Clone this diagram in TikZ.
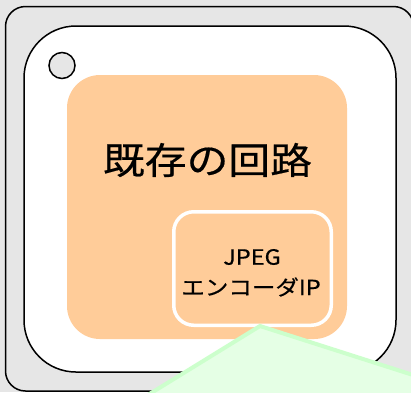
\documentclass[tikz,border=0pt]{standalone}
\usepackage{fontspec}
\setmainfont{Noto Sans CJK JP}[FakeBold=0.4]
\definecolor{bggray}{HTML}{E6E6E6}
\definecolor{peach}{HTML}{FFCC99}
\definecolor{greenfill}{HTML}{E5FFE5}
\definecolor{greenline}{HTML}{CCFFCC}
\tikzset{
  package/.style={draw=black, line width=1.5pt, fill=bggray, rounded corners=20pt},
  die/.style={draw=black, line width=1.5pt, fill=white, rounded corners=52pt},
  pin1/.style={draw=black, line width=1.5pt, fill=bggray, circle, minimum size=26pt, inner sep=0pt},
  circuit/.style={fill=peach, rounded corners=33pt, inner sep=0pt},
  ipbox/.style={draw=white, line width=3.5pt, fill=peach, rounded corners=20pt, inner sep=0pt},
  callout/.style={draw=greenline, fill=greenfill, line width=4pt, line join=miter},
  iptext/.style={font=\fontsize{21}{24}\selectfont, xscale=1.12},
}
\begin{document}
\begin{tikzpicture}[x=1pt,y=-1pt]
\fill[bggray] (0,0) rectangle (411,392);
\useasboundingbox (0,0) rectangle (411,392);
\clip (0,0) rectangle (411,392);
\draw[package] (5.5,6.5) rectangle (413.5,391);
\draw[die] (24,26) rectangle (396,372);
\node[pin1] (pin) at (62,65.5) {};
\node[circuit, minimum width=280pt, minimum height=264pt] (old) at (207,207) {};
\node[font=\fontsize{37}{40}\selectfont, xscale=1.13] (oldlabel) at (207.5,160) {既存の回路};
\node[ipbox, minimum width=157.5pt, minimum height=113.5pt] (ip) at (252.5,268.5) {};
\node[iptext] (iplabel1) at (252,257) {JPEG};
\node[iptext] (iplabel2) at (251,287) {エンコーダIP};
\coordinate (apex) at (260,326);
\coordinate (cl) at (91,430);
\coordinate (cr) at (530,430);
\coordinate (crr) at (530,412.4);
\draw[callout] (apex) -- (cl) -- (cr) -- (crr) -- cycle;
\end{tikzpicture}
\end{document}
